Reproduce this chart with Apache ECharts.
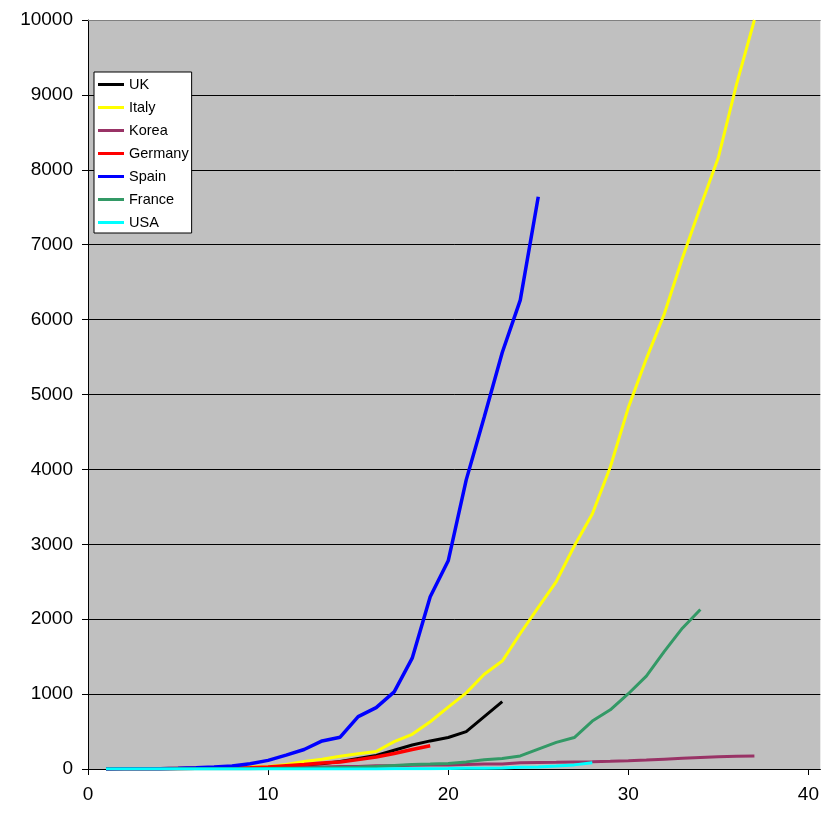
<!DOCTYPE html>
<html>
<head>
<meta charset="utf-8">
<script src="https://cdn.jsdelivr.net/npm/echarts@6/dist/echarts.min.js"></script>
<style>
html,body{margin:0;padding:0;background:#fff;overflow:hidden;}
#chart{width:822px;height:818px;}
</style>
</head>
<body>
<div id="chart"></div>
<script>
// Values by day (day 1, 2, 3, ...)
var seriesNames = ['UK', 'Italy', 'Korea', 'Germany', 'Spain', 'France', 'USA'];
var uk = [1,2,2,3,4,6,8,10,11,21,35,55,71,100,140,180,250,320,375,420,500,700,900];
var italy = [1,2,3,7,10,12,17,21,29,34,60,100,130,170,205,233,366,463,631,827,1016,1266,1441,1809,2158,2503,2978,3405,4032,4825,5476,6077,6820,7503,8165,9134,10000];
var korea = [1,2,2,6,8,10,12,13,13,16,17,28,28,35,35,42,44,50,53,54,60,66,66,85,88,90,94,98,104,111,120,131,142,152,162,169,174];
var germany = [1,2,3,3,6,9,11,13,17,28,44,60,80,94,125,160,206,260,310];
var spain = [1,2,3,5,10,17,28,40,70,115,185,260,375,425,700,820,1030,1480,2300,2780,3860,4700,5560,6260,7640];
var france = [1,1,1,1,2,2,2,3,4,7,9,11,16,19,25,33,48,61,67,75,95,125,140,175,265,355,420,640,790,1005,1240,1570,1880,2130];
var usa = [1,1,1,1,1,1,1,1,1,1,1,1,1,1,1,1,2,3,4,6,9,11,15,22,28,40,55,84];
var xTickValues = [0, 10, 20, 30, 40];

var seriesValues = [uk, italy, korea, germany, spain, france, usa];
var colors = ['#000000', '#FFFF00', '#993366', '#FF0000', '#0000FF', '#339966', '#00FFFF'];
var widths = [3, 3, 3, 3.5, 3.5, 3, 3];

function toPairs(arr) {
  return arr.map(function (v, i) { return [i + 1, v]; });
}

var FONT = '"Liberation Sans", Arial, sans-serif';
var XMAX = 40.66;

var chart = echarts.init(document.getElementById('chart'), null, {renderer: 'canvas'});
chart.setOption({
  animation: false,
  backgroundColor: '#ffffff',
  grid: {
    left: 88, right: 0, top: 20, bottom: 49,
    show: true, backgroundColor: '#C0C0C0',
    borderWidth: 0
  },
  legend: {
    data: seriesNames,
    orient: 'vertical',
    left: 94, top: 72,
    padding: [5, 3, 3, 4],
    itemGap: 8,
    itemWidth: 26, itemHeight: 3,
    icon: 'rect',
    backgroundColor: '#ffffff',
    borderColor: '#000000', borderWidth: 1,
    textStyle: {fontFamily: FONT, fontSize: 14.5, color: '#000', lineHeight: 15}
  },
  xAxis: [{
    type: 'value', min: 0, max: XMAX, position: 'bottom',
    axisLine: {show: true, lineStyle: {color: '#000', width: 1}},
    axisTick: {show: true, length: 6, lineStyle: {color: '#000'}, customValues: xTickValues},
    axisLabel: {fontFamily: FONT, fontSize: 19, color: '#000', margin: 16, customValues: xTickValues,
      formatter: function (v) { return String(v); }},
    splitLine: {show: false}
  }, {
    type: 'value', min: 0, max: XMAX, position: 'top',
    axisLine: {show: true, onZero: false, lineStyle: {color: '#808080', width: 1}},
    axisTick: {show: false},
    axisLabel: {show: false},
    splitLine: {show: false}
  }],
  yAxis: {
    type: 'value', min: 0, max: 10000, interval: 1000,
    axisLine: {show: true, lineStyle: {color: '#000', width: 1}},
    axisTick: {show: true, length: 6, lineStyle: {color: '#000'}},
    axisLabel: {fontFamily: FONT, fontSize: 19, color: '#000', margin: 15,
      formatter: function (v) { return String(v); }},
    splitLine: {show: true, showMaxLine: false, lineStyle: {color: '#000', width: 1}}
  },
  series: seriesNames.map(function (name, k) {
    return {
      name: name,
      type: 'line',
      xAxisIndex: 0,
      data: toPairs(seriesValues[k]),
      showSymbol: false,
      symbol: 'none',
      color: colors[k],
      lineStyle: {color: colors[k], width: widths[k]},
      clip: true
    };
  })
});
</script>
</body>
</html>
